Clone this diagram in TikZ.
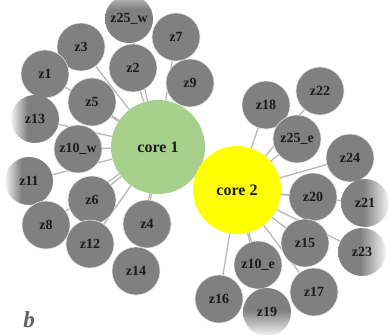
\documentclass[tikz,border=0pt]{standalone}
\usepackage{fontspec}
\setmainfont{Liberation Serif}
\usetikzlibrary{backgrounds}
\definecolor{ngray}{HTML}{808080}
\definecolor{edgec}{HTML}{B8B8B8}
\definecolor{cgreen}{HTML}{A8D08D}
\definecolor{cyell}{HTML}{FFFF00}
\definecolor{txt}{HTML}{1A1A1A}
\definecolor{fadec}{HTML}{F4F4F4}
\pgfdeclarehorizontalshading{fadeleft}{100bp}{color(0bp)=(white); color(25bp)=(fadec); color(42bp)=(ngray); color(100bp)=(ngray)}
\pgfdeclarehorizontalshading{faderight}{100bp}{color(0bp)=(ngray); color(48bp)=(ngray); color(75bp)=(fadec); color(100bp)=(white)}
\pgfdeclareverticalshading{fadebottom}{100bp}{color(0bp)=(white); color(25bp)=(fadec); color(52bp)=(ngray); color(100bp)=(ngray)}
\pgfdeclareverticalshading{fadetop}{100bp}{color(0bp)=(ngray); color(60bp)=(ngray); color(75bp)=(white!55!ngray); color(100bp)=(white)}
\tikzset{
  lbl/.style={text=txt, font=\bfseries\fontsize{14}{14}\selectfont},
  gnode/.style={circle, minimum size=48pt, inner sep=0pt, fill=ngray, draw=white!80!gray, line width=0.6pt, lbl},
  fnode/.style={circle, minimum size=48pt, inner sep=0pt, shading=#1, lbl},
  corenode/.style={circle, inner sep=0pt, text=txt, font=\bfseries\fontsize{16}{16}\selectfont},
  edge/.style={draw=edgec, line width=1.3pt}
}
\begin{document}
\begin{tikzpicture}[x=1pt,y=-1pt]
\useasboundingbox (0,0) rectangle (390,334);
% core 1 group
\node[fnode=fadetop] (z25w) at (129,19) {z25\_w};
\node[gnode] (z3) at (81,47) {z3};
\node[gnode] (z7) at (176,37) {z7};
\node[gnode] (z2) at (133,68) {z2};
\node[gnode] (z1) at (45,74) {z1};
\node[gnode] (z9) at (190,83) {z9};
\node[gnode] (z5) at (92,102) {z5};
\node[fnode=fadeleft] (z13) at (35,119) {z13};
\node[gnode] (z10w) at (78,149) {z10\_w};
\node[fnode=fadeleft] (z11) at (29,181) {z11};
\node[gnode] (z6) at (92,200) {z6};
\node[gnode] (z8) at (46,225) {z8};
\node[gnode] (z12) at (90,244) {z12};
\node[gnode] (z4) at (147,224) {z4};
\node[gnode] (z14) at (136,271) {z14};
\node[corenode, fill=cgreen, minimum size=94pt] (c1) at (158,147) {core 1};
% core 2 group
\node[gnode] (z18) at (266,105) {z18};
\node[gnode] (z22) at (320,91) {z22};
\node[gnode] (z25e) at (297,139) {z25\_e};
\node[gnode] (z24) at (350,158) {z24};
\node[gnode] (z20) at (313,197) {z20};
\node[fnode=faderight] (z21) at (365,203) {z21};
\node[gnode] (z15) at (305,243) {z15};
\node[fnode=faderight] (z23) at (362,252) {z23};
\node[gnode] (z10e) at (258,265) {z10\_e};
\node[gnode] (z17) at (314,292) {z17};
\node[gnode] (z16) at (219,299) {z16};
\node[fnode=fadebottom] (z19) at (267,312) {z19};
\node[corenode, fill=cyell, minimum size=88pt] (c2) at (237,190) {core 2};
\node[text=black!62, font=\bfseries\itshape\fontsize{23}{23}\selectfont] (lb) at (29,320) {b};
\begin{scope}[on background layer]
\foreach \n in {z25w,z3,z7,z2,z1,z9,z5,z13,z10w,z11,z6,z8,z12,z4,z14}
  \draw[edge] (c1) -- (\n);
\foreach \n in {z18,z22,z25e,z24,z20,z21,z15,z23,z10e,z17,z16,z19}
  \draw[edge] (c2) -- (\n);
\end{scope}
\end{tikzpicture}
\end{document}
